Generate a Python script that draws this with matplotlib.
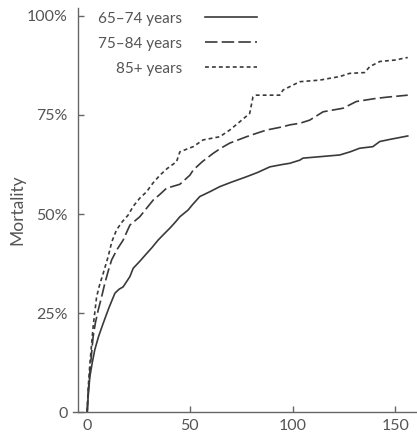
import matplotlib.pyplot as plt

plt.rcParams['font.family'] = ['Lato', 'DejaVu Sans']
plt.rcParams['lines.scale_dashes'] = False

# months of follow-up and cumulative mortality
t_6574 = [0, 0.5, 1.3, 2.5, 3.7, 5.5, 7.8, 10.5, 13.5, 15.5, 17.5, 20.8, 22.4, 25.5,
          28.9, 31.5, 34.5, 37.5, 40.2, 43, 45.1, 49.1, 51.5, 54.8, 60, 64.5, 70,
          77.5, 83, 88.9, 95, 98.6, 103.5, 105, 114, 122.9, 128, 132.6, 139, 142.4,
          147, 152, 156]
m_6574 = [0, 0.04, 0.089, 0.125, 0.157, 0.19, 0.224, 0.262, 0.30, 0.31, 0.316, 0.342,
          0.363, 0.38, 0.40, 0.415, 0.434, 0.45, 0.464, 0.48, 0.493, 0.51, 0.525,
          0.544, 0.557, 0.569, 0.58, 0.594, 0.605, 0.619, 0.625, 0.628, 0.636, 0.641,
          0.645, 0.649, 0.657, 0.666, 0.67, 0.683, 0.688, 0.693, 0.697]

t_7584 = [0, 0.5, 1.3, 2.9, 4, 5.4, 7, 8.6, 10.2, 11.9, 14.5, 17.5, 20.8, 25.6, 29,
          32.1, 35.5, 38.6, 45.1, 50, 51.6, 56, 61.3, 65, 69.4, 77.5, 82, 87.3, 95,
          98.6, 103.5, 108.3, 114.8, 124.5, 131, 140.8, 146, 152, 156]
m_7584 = [0, 0.05, 0.10, 0.19, 0.225, 0.258, 0.29, 0.325, 0.355, 0.384, 0.41, 0.434,
          0.472, 0.493, 0.515, 0.535, 0.55, 0.565, 0.575, 0.598, 0.611, 0.632, 0.653,
          0.666, 0.679, 0.695, 0.703, 0.712, 0.72, 0.725, 0.729, 0.737, 0.758, 0.767,
          0.784, 0.792, 0.795, 0.798, 0.80]

t_85 = [0, 0.5, 1.3, 2.9, 4.6, 6, 7.8, 10.2, 12, 14.3, 17, 19.9, 22.5, 25.6, 28.9,
        32, 35.4, 39, 43.5, 45.1, 51.6, 56.4, 64.5, 69.4, 74.3, 79.1, 80.7, 82.3,
        93.7, 95.3, 103.5, 113.2, 122.9, 127.7, 135, 137.5, 142.4, 150.5, 153.7, 156]
m_85 = [0, 0.06, 0.12, 0.215, 0.291, 0.32, 0.35, 0.392, 0.43, 0.46, 0.48, 0.497,
        0.52, 0.54, 0.556, 0.578, 0.598, 0.615, 0.632, 0.657, 0.67, 0.687, 0.695,
        0.712, 0.733, 0.754, 0.796, 0.80, 0.80, 0.813, 0.834, 0.838, 0.847, 0.855,
        0.857, 0.872, 0.885, 0.889, 0.893, 0.895]

labels = ['65\u201374 years', '75\u201384 years', '85+ years']
y_ticks = [0, 0.25, 0.5, 0.75, 1.0]
y_ticklabels = ['0', '25%', '50%', '75%', '100%']
x_ticks = [0, 50, 100, 150]

line_col = '#3a3a3a'
axis_col = '#666666'
text_col = '#555555'

fig = plt.figure(figsize=(4.17, 4.45), dpi=100)
ax = fig.add_axes([0.175, 0.074, 0.825, 0.908])

ax.plot(t_6574, m_6574, color=line_col, lw=1.2, label=labels[0])
ax.plot(t_7584, m_7584, color=line_col, lw=1.2, dashes=(9, 3), label=labels[1])
ax.plot(t_85, m_85, color=line_col, lw=1.2, dashes=(2.8, 2.2), label=labels[2])

ax.set_xlim(-6.9, 160.5)
ax.set_ylim(0, 1.02)

for s in ['top', 'right']:
    ax.spines[s].set_visible(False)
ax.spines['left'].set_position(('data', -4.5))
for s in ['left', 'bottom']:
    ax.spines[s].set_color(axis_col)
    ax.spines[s].set_linewidth(1.0)

ax.set_yticks(y_ticks)
ax.set_yticklabels(y_ticklabels)
ax.set_xticks(x_ticks)
ax.tick_params(axis='y', direction='in', length=4.5, width=1.0, color=axis_col,
               labelcolor=text_col, labelsize=11.5, pad=7.5)
ax.tick_params(axis='x', direction='in', length=4.5, width=1.0, color=axis_col,
               labelcolor=text_col, labelsize=11.5, pad=5)

ax.set_ylabel('Mortality', color=text_col, fontsize=12.5)
ax.yaxis.set_label_coords(-0.137, 0.5)

ax.legend(loc='upper right', bbox_to_anchor=(0.558, 1.01), frameon=False,
          markerfirst=False, fontsize=11, handlelength=3.4, handletextpad=1.5,
          labelspacing=0.72, borderpad=0, labelcolor=text_col)

fig.savefig('out.png', dpi=100)
